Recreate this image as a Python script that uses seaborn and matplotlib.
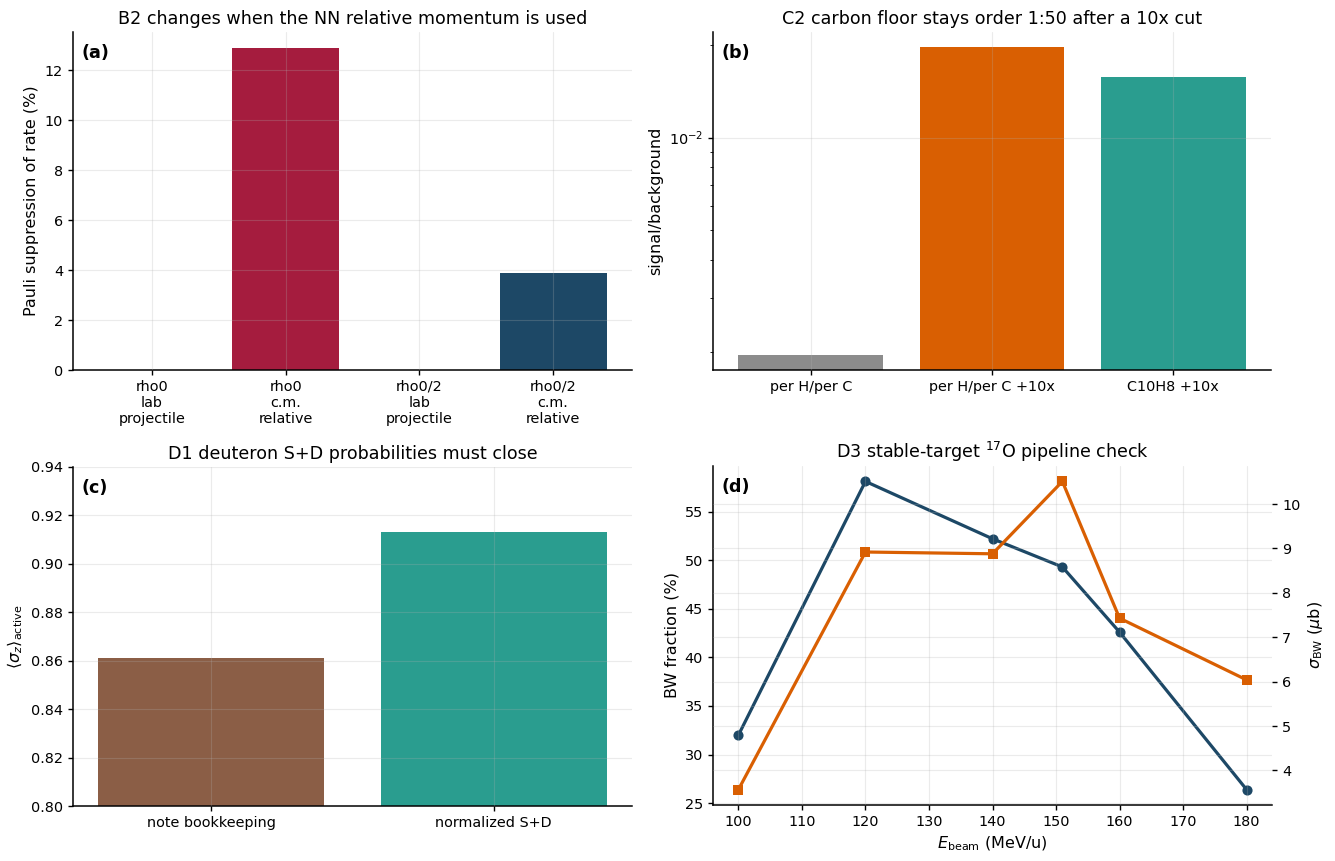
import numpy as np
import pandas as pd
import matplotlib
matplotlib.use("Agg")
import matplotlib.pyplot as plt
import matplotlib.ticker as mticker
import seaborn as sns

# ---- data ----
a_cats = ["rho0\nlab\nprojectile", "rho0\nc.m.\nrelative", "rho0/2\nlab\nprojectile", "rho0/2\nc.m.\nrelative"]
a_vals = [0.0, 12.87, 0.0, 3.9]
a_colors = ["#a51c3e", "#a51c3e", "#1d4866", "#1d4866"]

b_cats = ["per H/per C", "per H/per C +10x", "C10H8 +10x"]
b_vals = [0.00196, 0.0198, 0.0158]
b_colors = ["#8c8c8c", "#d95f02", "#2a9d8f"]

c_cats = ["note bookkeeping", "normalized S+D"]
c_vals = [0.861, 0.913]
c_colors = ["#8b5e46", "#2a9d8f"]

d_energy = [100, 120, 140, 151, 160, 180]
d_frac = [32.0, 58.1, 52.2, 49.3, 42.6, 26.4]
d_sigma = [3.57, 8.92, 8.88, 10.51, 7.43, 6.04]

sns.set_style("ticks")
plt.rcParams["font.family"] = ["DejaVu Sans"]
plt.rcParams.update({
    "axes.titlesize": 12.6,
    "axes.labelsize": 11.5,
    "xtick.labelsize": 10.4,
    "ytick.labelsize": 10.4,
    "text.color": "black",
    "axes.labelcolor": "black",
    "axes.edgecolor": "black",
    "xtick.color": "black",
    "ytick.color": "black",
    "xtick.major.size": 3.7,
    "ytick.major.size": 3.7,
    "ytick.minor.size": 2.1,
    "xtick.major.width": 1.0,
    "ytick.major.width": 1.0,
    "axes.linewidth": 1.1,
})

fig = plt.figure(figsize=(13.35, 8.61), dpi=100)
W, H = 1335, 861
def pos(x0, x1, y0, y1):
    return [x0 / W, (H - y1) / H, (x1 - x0) / W, (y1 - y0) / H]

axa = fig.add_axes(pos(73, 632, 32, 370))
axb = fig.add_axes(pos(713, 1271, 32, 370))
axc = fig.add_axes(pos(73, 632, 467, 806))
axd = fig.add_axes(pos(713, 1272, 466, 805))

def style(ax):
    ax.grid(True, color="#b0b0b0", alpha=0.25, lw=0.8)
    ax.set_axisbelow(False)
    sns.despine(ax=ax)

def panel_label(ax, s):
    ax.text(0.015, 0.965, s, transform=ax.transAxes, fontsize=12.6,
            fontweight="bold", va="top", ha="left")

# (a)
dfa = pd.DataFrame({"cat": a_cats, "val": a_vals})
sns.barplot(data=dfa, x="cat", y="val", hue="cat", palette=a_colors,
            legend=False, ax=axa, width=0.8, saturation=1, linewidth=0)
axa.set_xlim(-0.59, 3.59)
axa.set_ylim(0, 13.52)
axa.set_xlabel("")
axa.set_ylabel("Pauli suppression of rate (%)")
axa.set_title("B2 changes when the NN relative momentum is used")
style(axa)
panel_label(axa, "(a)")

# (b)
dfb = pd.DataFrame({"cat": b_cats, "val": b_vals})
axb.set_yscale("log")
sns.barplot(data=dfb, x="cat", y="val", hue="cat", palette=b_colors,
            legend=False, ax=axb, width=0.8, saturation=1, linewidth=0)
axb.set_yscale("log")
axb.set_xlim(-0.54, 2.54)
axb.set_ylim(0.00175, 0.0221)
axb.yaxis.set_minor_formatter(mticker.NullFormatter())
axb.set_xlabel("")
axb.set_ylabel("signal/background")
axb.set_title("C2 carbon floor stays order 1:50 after a 10x cut")
style(axb)
axb.grid(False, which="minor")
panel_label(axb, "(b)")

# (c)
dfc = pd.DataFrame({"cat": c_cats, "val": c_vals})
sns.barplot(data=dfc, x="cat", y="val", hue="cat", palette=c_colors,
            legend=False, ax=axc, width=0.8, saturation=1, linewidth=0)
axc.set_xlim(-0.49, 1.49)
axc.set_ylim(0.80, 0.94)
axc.set_xlabel("")
axc.set_ylabel(r"$\langle\sigma_z\rangle_{\mathrm{active}}$")
axc.set_title("D1 deuteron S+D probabilities must close")
style(axc)
panel_label(axc, "(c)")

# (d)
dfd = pd.DataFrame({"E": d_energy, "frac": d_frac, "sigma": d_sigma})
sns.lineplot(data=dfd, x="E", y="frac", marker="o", color="#1d4866",
             lw=2.3, markersize=7.3, markeredgewidth=0, ax=axd)
axd.set_xlabel(r"$E_{\mathrm{beam}}$ (MeV/u)")
axd.set_ylabel("BW fraction (%)")
axd.set_title(r"D3 stable-target $^{17}$O pipeline check")
axd.set_xticks(np.arange(100, 181, 10))
style(axd)
axd2 = axd.twinx()
sns.lineplot(data=dfd, x="E", y="sigma", marker="s", color="#d95f02",
             lw=2.3, markersize=7.3, markeredgewidth=0, ax=axd2)
axd2.set_ylabel(r"$\sigma_{\mathrm{BW}}$ ($\mu$b)")
axd2.grid(True, color="#b0b0b0", alpha=0.25, lw=0.8)
for s in ["top", "right", "left", "bottom"]:
    axd2.spines[s].set_visible(False)
panel_label(axd, "(d)")

fig.savefig("out.png", dpi=100)
